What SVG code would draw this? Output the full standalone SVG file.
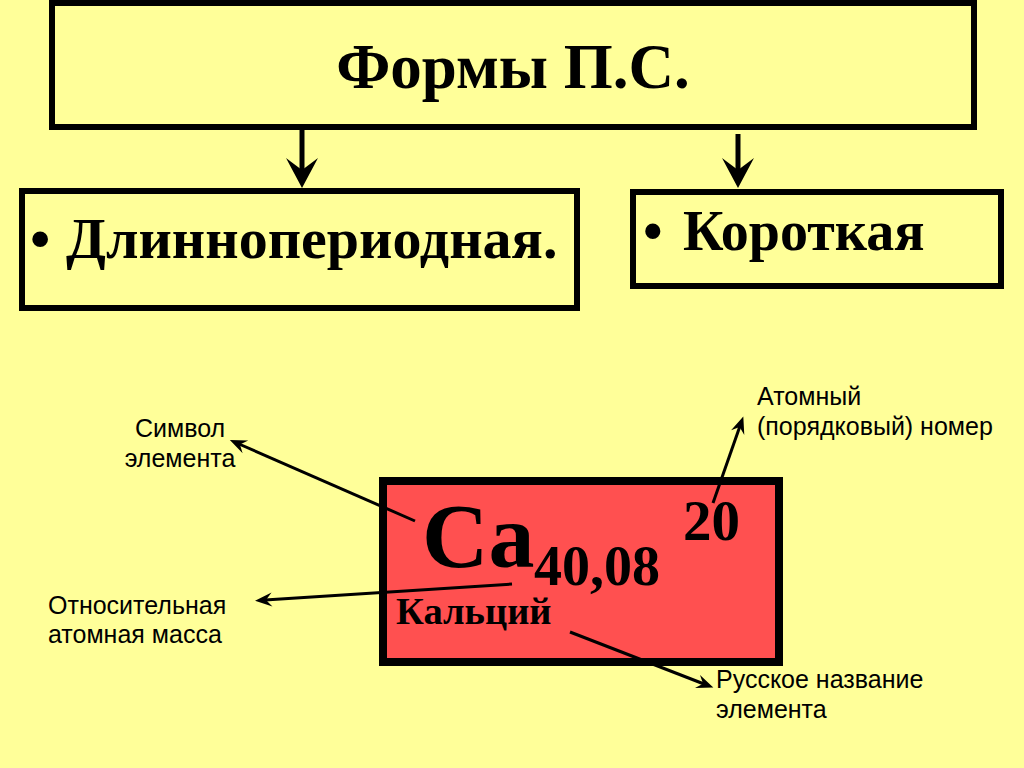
<svg xmlns="http://www.w3.org/2000/svg" width="1024" height="768" viewBox="0 0 1024 768">
<style>
.box{fill:#FFFF99;stroke:#000;stroke-width:6}
.big{font-family:"Liberation Serif","Times New Roman",serif;font-weight:bold;fill:#000}
.lbl{font-family:"Liberation Sans",Arial,sans-serif;font-size:25px;fill:#000}
.thick{stroke:#000;stroke-width:5;fill:none}
.thin{stroke:#000;stroke-width:3;fill:none}
</style>
<defs>
<marker id="bigHead" markerUnits="userSpaceOnUse" viewBox="-32 -17 34 34" refX="-18" refY="0" markerWidth="34" markerHeight="34" orient="auto">
<path d="M0,0 L-30,-16 L-18,0 L-30,16 Z" fill="#000"/>
</marker>
<marker id="smallHead" markerUnits="userSpaceOnUse" viewBox="-20 -10 22 20" refX="-10" refY="0" markerWidth="22" markerHeight="20" orient="auto">
<path d="M0,0 L-17,-7 L-11,0 L-17,7 Z" fill="#000"/>
</marker>
</defs>
<rect x="0" y="0" width="1024" height="768" fill="#FFFF99"/>
<g id="title">
<rect class="box" x="52" y="3" width="922" height="124"/>
<text class="big" x="513" y="88" font-size="63" text-anchor="middle">Формы П.С.</text>
</g>
<g id="long">
<rect class="box" x="22" y="191" width="555" height="117"/>
<text class="big" y="258" font-size="58"><tspan x="30">•</tspan><tspan x="66">Длиннопериодная.</tspan></text>
</g>
<g id="short">
<rect class="box" x="633" y="192" width="368" height="94"/>
<text class="big" y="250" font-size="56"><tspan x="643">•</tspan><tspan x="683">Короткая</tspan></text>
</g>
<g id="element">
<rect x="383" y="481" width="396" height="181" fill="#FF5050" stroke="#000" stroke-width="8"/>
<text class="big" x="422" y="567" font-size="92">Ca</text>
<text class="big" x="534" y="585" font-size="56">40,08</text>
<text class="big" x="683" y="540" font-size="57">20</text>
<text class="big" x="396" y="624" font-size="38.5">Кальций</text>
</g>
<g id="label-symbol">
<text class="lbl" x="180" y="437" text-anchor="middle">Символ</text>
<text class="lbl" x="180" y="467" text-anchor="middle">элемента</text>
</g>
<g id="label-number">
<text class="lbl" x="757" y="405">Атомный</text>
<text class="lbl" x="757" y="435">(порядковый) номер</text>
</g>
<g id="label-mass">
<text class="lbl" x="48" y="614">Относительная</text>
<text class="lbl" x="48" y="643">атомная масса</text>
</g>
<g id="label-name">
<text class="lbl" x="716" y="688">Русское название</text>
<text class="lbl" x="716" y="718">элемента</text>
</g>
<g id="connectors">
<line class="thick" x1="302" y1="127" x2="302" y2="170" marker-end="url(#bigHead)"/>
<line class="thick" x1="738" y1="134" x2="738" y2="170" marker-end="url(#bigHead)"/>
<line class="thin" x1="415" y1="521" x2="239" y2="444" marker-end="url(#smallHead)"/>
<line class="thin" x1="713" y1="503" x2="740" y2="426" marker-end="url(#smallHead)"/>
<line class="thin" x1="512" y1="584" x2="265" y2="600" marker-end="url(#smallHead)"/>
<line class="thin" x1="570" y1="632" x2="704" y2="684" marker-end="url(#smallHead)"/>
</g>
</svg>
